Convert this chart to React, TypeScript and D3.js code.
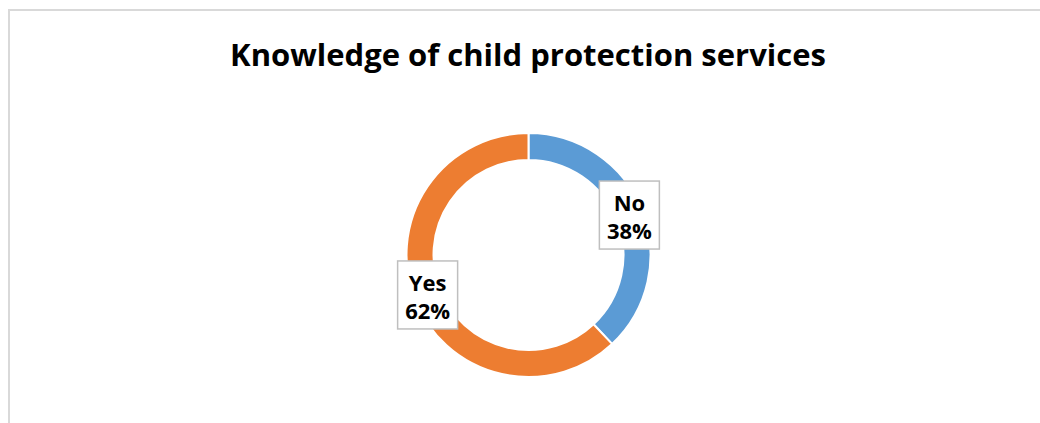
import React from "react";
import * as d3 from "d3";

const title = "Knowledge of child protection services";
const categories = ["No", "Yes"];
const values = [38, 62];
const colors = ["#5B9BD5", "#ED7D31"];

const W = 1040;
const H = 423;

export default function App() {
  const cx = 528.5;
  const cy = 255;
  const outerR = 122;
  const innerR = 95;

  const pie = d3
    .pie<number>()
    .sort(null)
    .value((d) => d)
    .startAngle(0)
    .endAngle(2 * Math.PI);
  const arcs = pie(values);
  const arc = d3.arc<d3.PieArcDatum<number>>().innerRadius(innerR).outerRadius(outerR);
  const total = d3.sum(values);
  const fmt = d3.format(".0%");

  const boxW = 60;
  const boxH = 68;

  return (
    <svg
      width={W}
      height={H}
      style={{ position: "absolute", left: 0, top: 0, background: "#fff" }}
    >
      <rect x={9} y={10} width={W + 20} height={H + 20} fill="#fff" stroke="#d9d9d9" strokeWidth={2} />
      <text
        x={528}
        y={66}
        textAnchor="middle"
        fontFamily="'Open Sans', sans-serif"
        fontWeight="bold"
        fontSize={31}
        fill="#000"
      >
        {title}
      </text>
      <g transform={`translate(${cx},${cy})`}>
        {arcs.map((a, i) => (
          <path key={i} d={arc(a) || ""} fill={colors[i]} stroke="#fff" strokeWidth={2} />
        ))}
        {arcs.map((a, i) => {
          const [lx, ly] = arc.centroid(a);
          return (
            <g key={"l" + i} transform={`translate(${lx},${ly})`}>
              <rect
                x={-boxW / 2}
                y={-boxH / 2}
                width={boxW}
                height={boxH}
                fill="#fff"
                stroke="#bfbfbf"
                strokeWidth={1.5}
              />
              <text
                textAnchor="middle"
                fontFamily="'Open Sans', sans-serif"
                fontWeight="bold"
                fontSize={22}
                fill="#000"
              >
                <tspan x={0} y={-4}>{categories[i]}</tspan>
                <tspan x={0} y={24}>{fmt(values[i] / total)}</tspan>
              </text>
            </g>
          );
        })}
      </g>
    </svg>
  );
}
